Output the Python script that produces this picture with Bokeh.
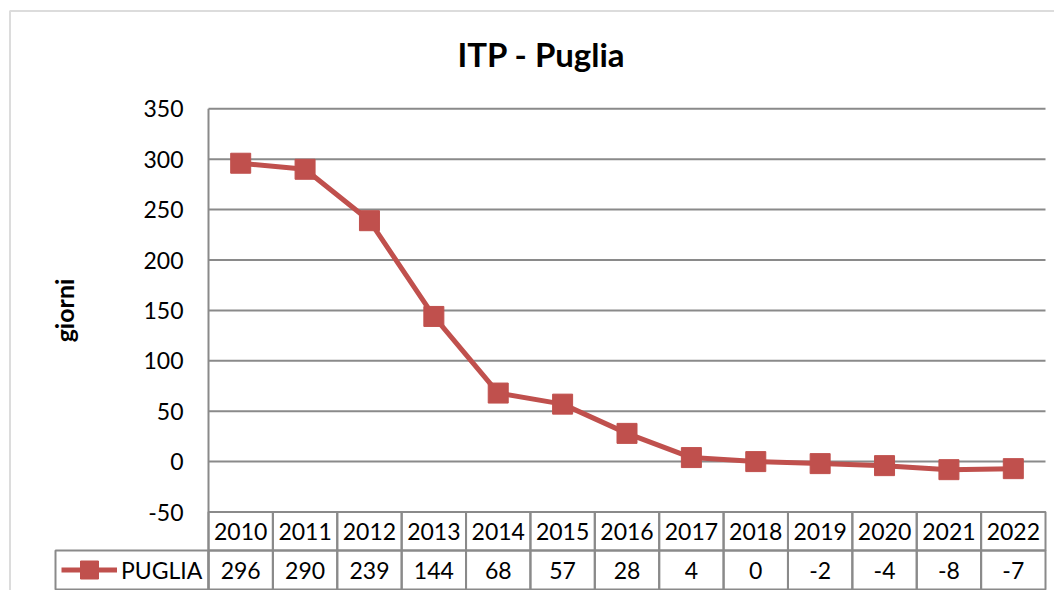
from bokeh.plotting import figure
from bokeh.models import (Range1d, FixedTicker, Label, Legend, LegendItem,
                          BoxAnnotation, ColumnDataSource)
from bokeh.core.properties import value
from bokeh.embed import file_html
from bokeh.resources import INLINE
import math

# ---- data ----
years = ["2010", "2011", "2012", "2013", "2014", "2015", "2016",
         "2017", "2018", "2019", "2020", "2021", "2022"]
puglia = [296, 290, 239, 144, 68, 57, 28, 4, 0, -2, -4, -8, -7]
series_name = "PUGLIA"
y_ticks = [-50, 0, 50, 100, 150, 200, 250, 300, 350]
title_text = "ITP - Puglia"
y_label = "giorni"

# ---- layout (pixels) ----
RED = "#C0504D"
GRID = "#8a8a8a"
FONT = "Lato"
FS = "23px"
W, H = 1054, 590
FR_L, FR_T = 8, 9                 # frame left / top on the canvas
PLOT_L, PLOT_R = 208, 1045        # plot area / table columns
Y_TOP_PX, Y_BOT_PX = 108.3, 511.5 # pixel rows of 350 and -50
ROW1_PX, ROW2_PX = 550, 589       # bottoms of the table rows

n = len(years)
pxx = (PLOT_R - PLOT_L) / n
pxy = (Y_BOT_PX - Y_TOP_PX) / (y_ticks[-1] - y_ticks[0])
def dx(px): return (px - PLOT_L) / pxx
def dy(py): return y_ticks[-1] - (py - Y_TOP_PX) / pxy

xs = [i + 0.5 for i in range(n)]
p = figure(width=W, height=H, output_backend="svg", toolbar_location=None,
           x_range=Range1d(dx(FR_L), dx(W)), y_range=Range1d(dy(H), dy(FR_T)),
           min_border_left=FR_L, min_border_right=0,
           min_border_top=FR_T, min_border_bottom=0)
p.outline_line_color = None
p.background_fill_color = "white"
p.border_fill_color = "white"

# axes
p.xaxis.visible = False
p.xgrid.visible = False
p.ygrid.visible = False
yax = p.yaxis[0]
yax.ticker = FixedTicker(ticks=y_ticks)
yax.axis_line_color = None
yax.major_tick_out = 0
yax.major_tick_in = 0
yax.minor_tick_out = 0
yax.minor_tick_in = 0
yax.major_label_standoff = -(183 - FR_L)
yax.major_label_overrides = {t: str(t) for t in y_ticks}
yax.major_label_text_font = FONT
yax.major_label_text_font_size = FS
yax.major_label_text_color = "black"

# gridlines and plot-area left edge
p.segment(x0=[0] * len(y_ticks), x1=[n] * len(y_ticks), y0=y_ticks, y1=y_ticks,
          line_color=GRID, line_width=2)
ytab1, ytab2 = dy(ROW1_PX), dy(ROW2_PX)
p.segment(x0=[0], x1=[0], y0=[ytab2], y1=[y_ticks[-1]], line_color=GRID, line_width=2)

# data table
hdr_y = (y_ticks[0] + ytab1) / 2
dat_y = (ytab1 + ytab2) / 2
p.rect(x=xs, y=[hdr_y] * n, width=1, height=y_ticks[0] - ytab1, fill_color=None,
       line_color=GRID, line_width=2)
p.rect(x=xs, y=[dat_y] * n, width=1, height=ytab1 - ytab2, fill_color=None,
       line_color=GRID, line_width=2)
cell_l = dx(55)
p.quad(left=[cell_l], right=[0], top=[ytab1], bottom=[ytab2], fill_color=None,
       line_color=GRID, line_width=2)
p.text(x=xs, y=[hdr_y] * n, text=years, text_align="center", text_baseline="middle",
       text_font=value(FONT), text_font_size=FS, text_color="black")
p.text(x=xs, y=[dat_y] * n, text=[str(v) for v in puglia], text_align="center",
       text_baseline="middle", text_font=value(FONT), text_font_size=FS, text_color="black")

# series
src = ColumnDataSource(dict(x=xs, val=puglia))
r_line = p.line(x="x", y="val", source=src, line_color=RED, line_width=5)
r_mark = p.scatter(x="x", y="val", source=src, marker="square", size=20,
                   fill_color=RED, line_color=RED)

legend = Legend(items=[LegendItem(label=series_name, renderers=[r_line, r_mark])],
                location=(61 - FR_L, H - 592), padding=0, margin=0, spacing=0,
                glyph_width=56, glyph_height=45, label_standoff=4,
                label_text_font=FONT, label_text_font_size=FS, label_text_color="black",
                border_line_color=None, background_fill_alpha=0)
p.add_layout(legend)

# outer chart border (right/bottom edges fall outside the window)
p.add_layout(BoxAnnotation(left=dx(9.5), right=dx(W + 50), top=dy(10.5), bottom=dy(H + 50),
                           fill_alpha=0, line_color=GRID, line_width=2))

# title and y label
p.add_layout(Label(x=dx(541), y=dy(53), text=title_text,
                   text_align="center", text_baseline="middle", text_font=FONT,
                   text_font_size="33px", text_font_style="bold", text_color="black"))
p.add_layout(Label(x=dx(63), y=dy(310), text=y_label, angle=math.pi / 2,
                   text_align="center", text_baseline="middle", text_font=FONT,
                   text_font_size="25px", text_font_style="bold", text_color="black"))

open("out.html", "w").write(file_html(p, INLINE))
